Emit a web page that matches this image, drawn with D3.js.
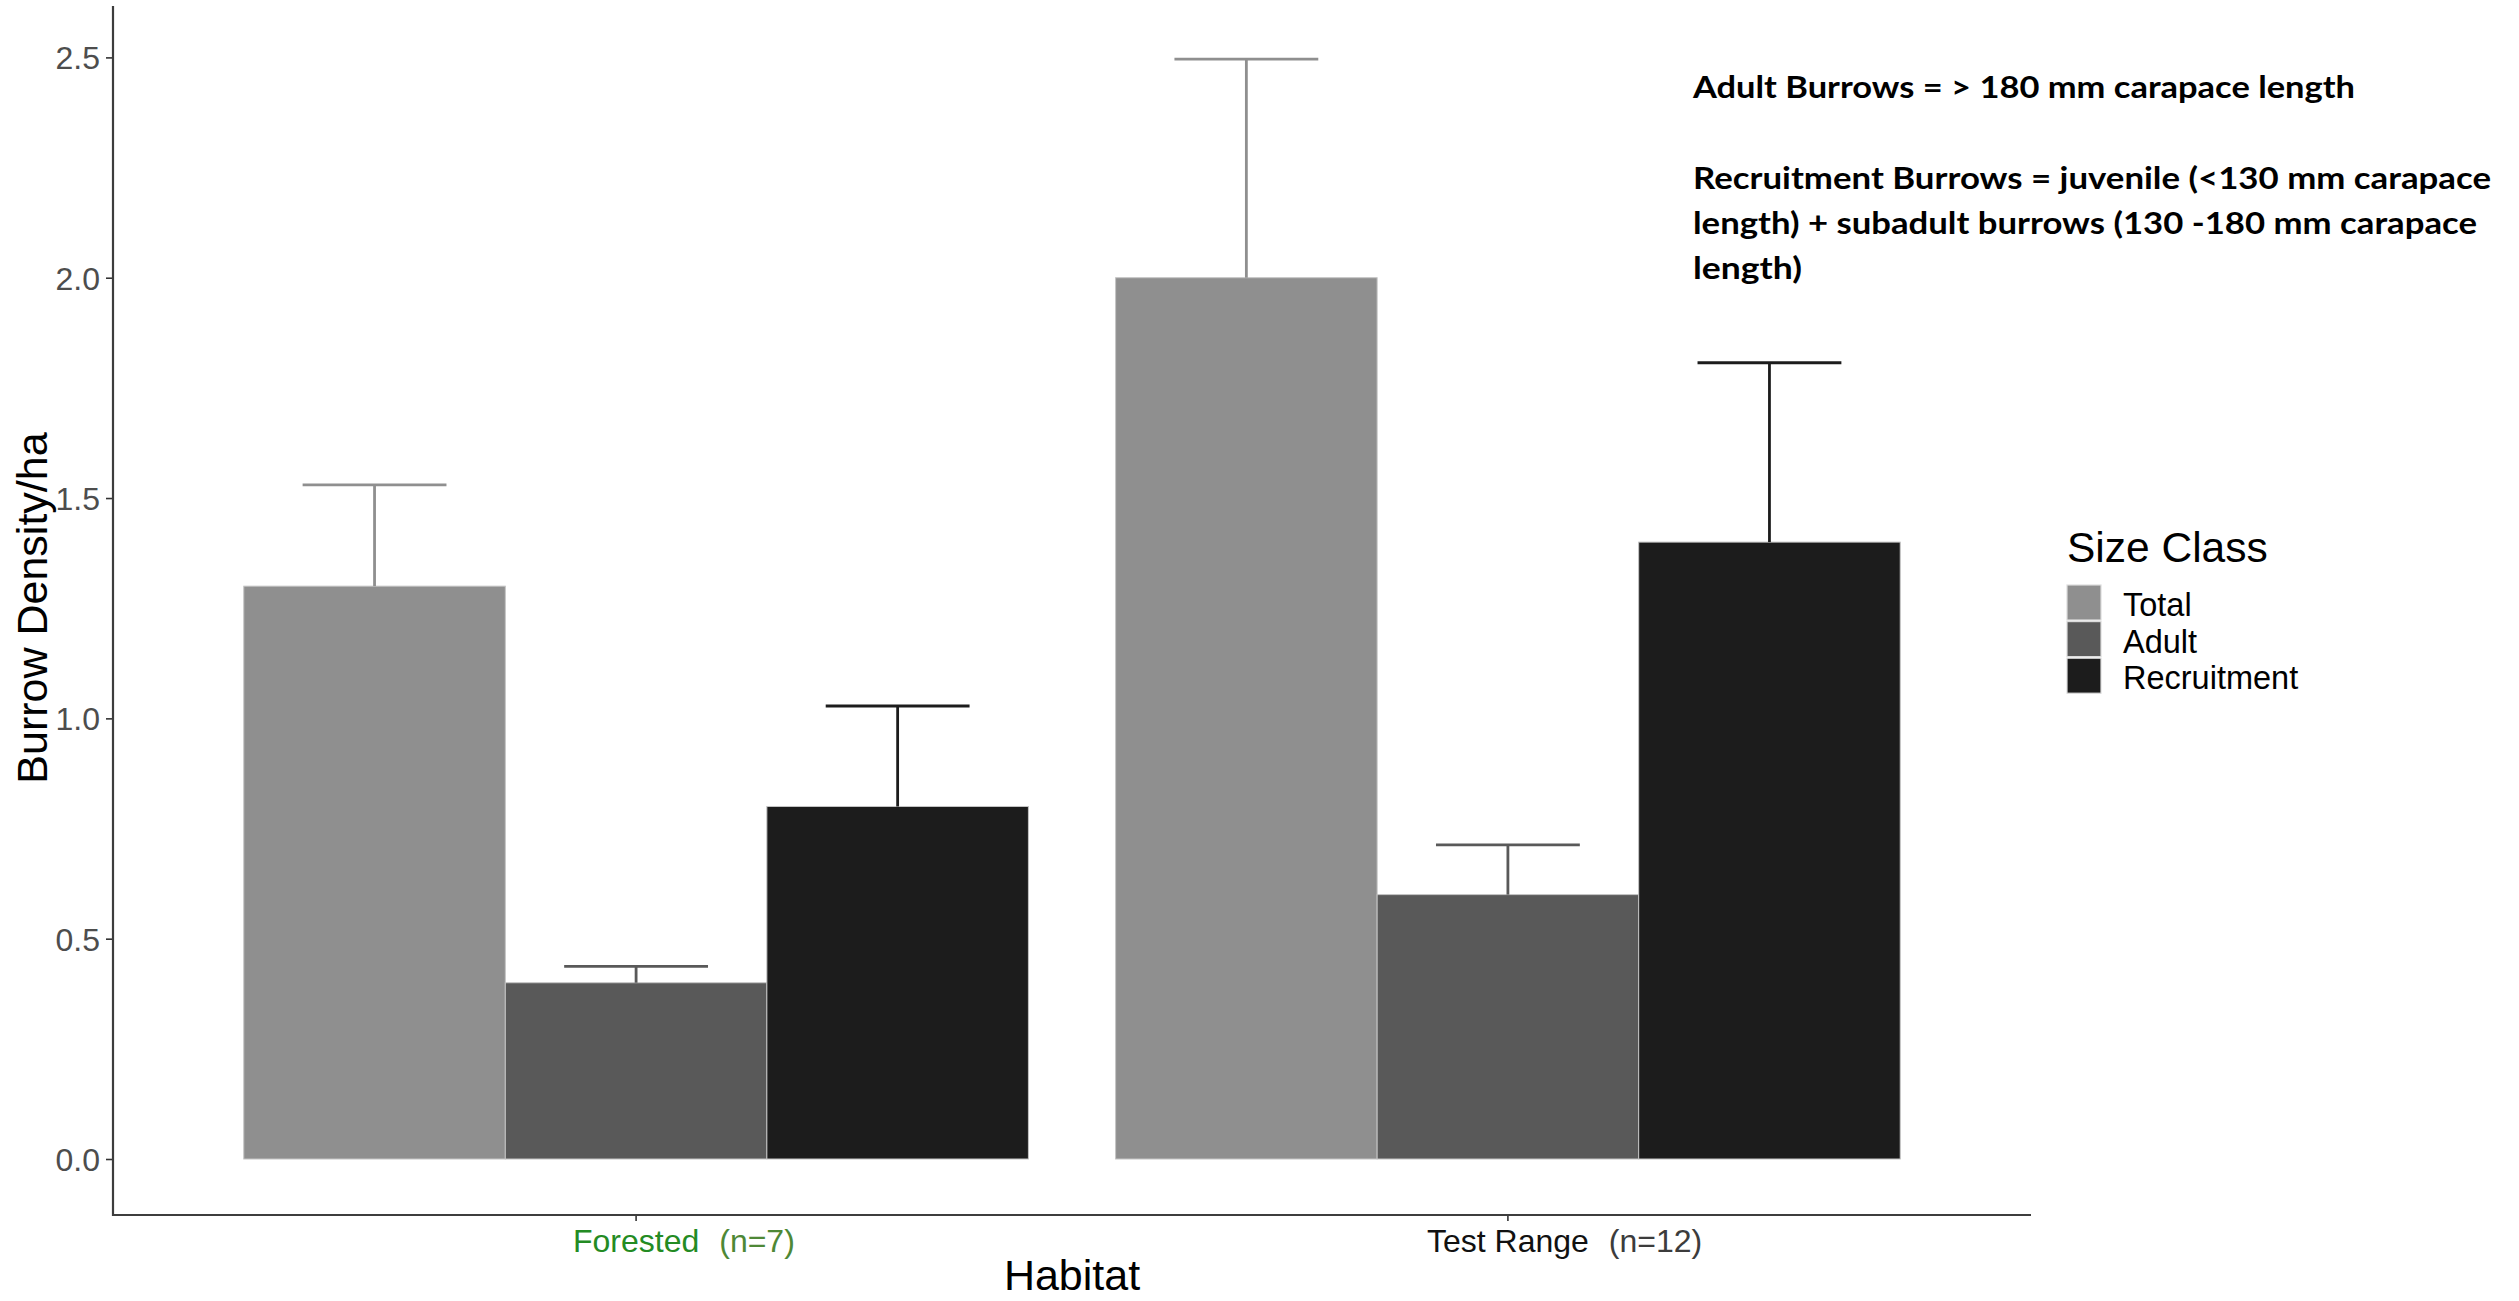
<!DOCTYPE html>
<html>
<head>
<meta charset="utf-8">
<script src="https://cdn.jsdelivr.net/npm/d3@7"></script>
<style>
  html, body { margin: 0; padding: 0; background: #ffffff; }
  svg { display: block; }
</style>
</head>
<body>
<script>
// Burrow density per hectare by habitat and size class (mean with upper SE bar)
const habitats = ["Forested", "Test Range"];
const sampleSizes = ["(n=7)", "(n=12)"];
const sizeClasses = ["Total", "Adult", "Recruitment"];

const totalMean = [1.30, 2.00];
const totalSE = [0.23, 0.496];
const adultMean = [0.40, 0.60];
const adultSE = [0.037, 0.113];
const recruitMean = [0.80, 1.40];
const recruitSE = [0.228, 0.407];

const yTicks = [0, 0.5, 1.0, 1.5, 2.0, 2.5];

const noteLines = [
  "Adult Burrows = > 180 mm carapace length",
  "",
  "Recruitment Burrows = juvenile (<130 mm carapace",
  "length) + subadult burrows (130 -180 mm carapace",
  "length)"
];

const fills = ["#8f8f8f", "#595959", "#1c1c1c"];
const habitatColors = ["#238b23", "#111111"];
const sampleColors = ["#4e8836", "#3c3c3c"];

// long-form rows built from the series arrays
const meansBySeries = [totalMean, adultMean, recruitMean];
const seBySeries = [totalSE, adultSE, recruitSE];
const rows = [];
habitats.forEach((h, i) => {
  sizeClasses.forEach((s, j) => {
    rows.push({ habitat: h, cls: s, mean: meansBySeries[j][i], se: seBySeries[j][i] });
  });
});

const W = 2519, H = 1301;
const panel = { left: 113, right: 2031, top: 6, bottom: 1215 };

const svg = d3.select("body").append("svg")
  .attr("width", W).attr("height", H)
  .attr("viewBox", `0 0 ${W} ${H}`);

const x = d3.scaleBand()
  .domain(habitats)
  .range([panel.left, panel.right])
  .paddingInner(0.1)
  .paddingOuter(0.15);

const xInner = d3.scaleBand()
  .domain(sizeClasses)
  .range([0, x.bandwidth()])
  .padding(0);

const y = d3.scaleLinear()
  .domain([0, 2.5])
  .range([1159, 57.4]);

const color = d3.scaleOrdinal().domain(sizeClasses).range(fills);

// bars
const g = svg.append("g");
g.selectAll("rect.bar")
  .data(rows)
  .join("rect")
  .attr("class", "bar")
  .attr("x", d => x(d.habitat) + xInner(d.cls))
  .attr("width", xInner.bandwidth())
  .attr("y", d => y(d.mean))
  .attr("height", d => y(0) - y(d.mean))
  .attr("fill", d => color(d.cls))
  .attr("stroke", "#c4c4c4")
  .attr("stroke-width", 1);

// upper error bars
const capHalf = xInner.bandwidth() * 0.275;
const eb = g.selectAll("g.err")
  .data(rows)
  .join("g")
  .attr("class", "err")
  .attr("stroke", d => color(d.cls))
  .attr("stroke-width", 2.8)
  .attr("fill", "none");
eb.append("line")
  .attr("x1", d => x(d.habitat) + xInner(d.cls) + xInner.bandwidth() / 2)
  .attr("x2", d => x(d.habitat) + xInner(d.cls) + xInner.bandwidth() / 2)
  .attr("y1", d => y(d.mean))
  .attr("y2", d => y(d.mean + d.se));
eb.append("line")
  .attr("x1", d => x(d.habitat) + xInner(d.cls) + xInner.bandwidth() / 2 - capHalf)
  .attr("x2", d => x(d.habitat) + xInner(d.cls) + xInner.bandwidth() / 2 + capHalf)
  .attr("y1", d => y(d.mean + d.se))
  .attr("y2", d => y(d.mean + d.se));

// y axis
const yAxis = svg.append("g")
  .attr("transform", `translate(${panel.left},0)`)
  .call(d3.axisLeft(y).tickValues(yTicks).tickFormat(d3.format(".1f")).tickSize(7).tickPadding(6));
yAxis.select(".domain").remove();
yAxis.selectAll(".tick line").attr("stroke", "#333333").attr("stroke-width", 1.6);
yAxis.selectAll(".tick text")
  .attr("fill", "#4d4d4d")
  .attr("font-family", "'Liberation Sans', Arial, sans-serif")
  .attr("font-size", 32)
  .attr("dy", "0.36em");

// x axis
const xAxis = svg.append("g")
  .attr("transform", `translate(0,${panel.bottom})`)
  .call(d3.axisBottom(x).tickSize(6).tickFormat(""));
xAxis.select(".domain").remove();
xAxis.selectAll(".tick line").attr("stroke", "#333333").attr("stroke-width", 1.6);

// category labels: name centred on the tick, sample size trailing after it
const xl = svg.append("g")
  .attr("font-family", "'Liberation Sans', Arial, sans-serif")
  .attr("font-size", 32);
habitats.forEach((h, i) => {
  const t = xl.append("text")
    .attr("x", x(h) + x.bandwidth() / 2)
    .attr("y", 1252)
    .attr("text-anchor", "middle")
    .attr("fill", habitatColors[i])
    .text(h);
  const w = t.node().getComputedTextLength();
  xl.append("text")
    .attr("x", x(h) + x.bandwidth() / 2 + w / 2 + 20)
    .attr("y", 1252)
    .attr("fill", sampleColors[i])
    .text(sampleSizes[i]);
});

// axis lines
svg.append("line")
  .attr("x1", panel.left).attr("x2", panel.left)
  .attr("y1", panel.top).attr("y2", panel.bottom + 1)
  .attr("stroke", "#3d3d3d").attr("stroke-width", 2.2);
svg.append("line")
  .attr("x1", panel.left - 1).attr("x2", panel.right)
  .attr("y1", panel.bottom).attr("y2", panel.bottom)
  .attr("stroke", "#3d3d3d").attr("stroke-width", 2.2);

// axis titles
svg.append("text")
  .attr("x", (panel.left + panel.right) / 2)
  .attr("y", 1290)
  .attr("text-anchor", "middle")
  .attr("font-family", "'Liberation Sans', Arial, sans-serif")
  .attr("font-size", 43)
  .attr("fill", "#000")
  .text("Habitat");

svg.append("text")
  .attr("transform", "translate(47,608) rotate(-90)")
  .attr("text-anchor", "middle")
  .attr("font-family", "'Liberation Sans', Arial, sans-serif")
  .attr("font-size", 43)
  .attr("fill", "#000")
  .text("Burrow Density/ha");

// legend
const leg = svg.append("g").attr("font-family", "'Liberation Sans', Arial, sans-serif");
leg.append("text")
  .attr("x", 2067).attr("y", 562)
  .attr("font-size", 42.5)
  .attr("fill", "#000")
  .text("Size Class");
const items = leg.selectAll("g.item")
  .data(sizeClasses)
  .join("g")
  .attr("class", "item")
  .attr("transform", (d, i) => `translate(2067,${585 + i * 36.6})`);
items.append("rect")
  .attr("width", 34).attr("height", 35)
  .attr("fill", d => color(d))
  .attr("stroke", "#dcdcdc").attr("stroke-width", 1.2);
items.append("text")
  .attr("x", 56).attr("y", 31)
  .attr("font-size", 32.5)
  .attr("fill", "#000")
  .text(d => d);

// definitions note
const noteWidths = [662, 0, 798, 784, 109];
const noteBase = [98, 0, 189, 234, 279];
const note = svg.append("g")
  .attr("font-family", "Lato, 'Open Sans', sans-serif")
  .attr("font-weight", 700)
  .attr("font-size", 30)
  .attr("fill", "#000");
noteLines.forEach((line, i) => {
  if (!line) return;
  note.append("text")
    .attr("x", 1693)
    .attr("y", noteBase[i])
    .attr("textLength", noteWidths[i])
    .attr("lengthAdjust", "spacingAndGlyphs")
    .text(line);
});
</script>
</body>
</html>
